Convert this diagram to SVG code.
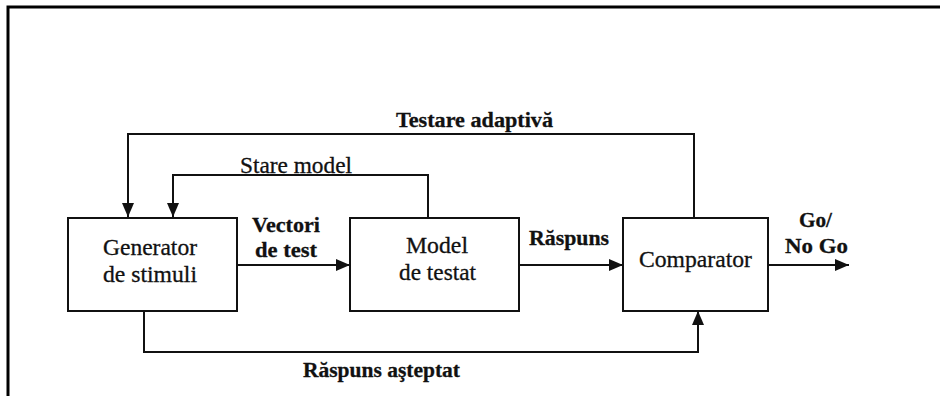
<svg xmlns="http://www.w3.org/2000/svg" width="940" height="396" viewBox="0 0 940 396">
<style>
.box{fill:#fff;stroke:#111;stroke-width:2}
.ln{fill:none;stroke:#111;stroke-width:2}
.t{font-family:"Liberation Serif","Times New Roman",serif;font-size:23px;fill:#111;stroke:#111;stroke-width:0.3}
.b{font-weight:bold;font-size:22px}
</style>
<defs>
<marker id="ah" viewBox="0 0 14 12" refX="14" refY="6" markerWidth="14" markerHeight="12" markerUnits="userSpaceOnUse" orient="auto">
<path d="M0,0 L14,6 L0,12 Z" fill="#111"/>
</marker>
</defs>
<rect width="940" height="396" fill="#fff"/>
<path d="M8,396 V7 H940" fill="none" stroke="#000" stroke-width="3"/>
<g id="connectors">
<path class="ln" d="M694,218 V134 H128 V217" marker-end="url(#ah)"/>
<path class="ln" d="M428,218 V175 H173 V217" marker-end="url(#ah)"/>
<path class="ln" d="M237,265 H350" marker-end="url(#ah)"/>
<path class="ln" d="M519,265 H623" marker-end="url(#ah)"/>
<path class="ln" d="M768,265 H849" marker-end="url(#ah)"/>
<path class="ln" d="M144,311 V352 H698 V311" marker-end="url(#ah)"/>
<text class="t b" x="396" y="127" textLength="157" lengthAdjust="spacingAndGlyphs">Testare adaptivă</text>
<text class="t" x="240" y="173" textLength="112" lengthAdjust="spacingAndGlyphs">Stare model</text>
<text class="t b" x="252" y="232" textLength="68" lengthAdjust="spacingAndGlyphs">Vectori</text>
<text class="t b" x="255" y="257" textLength="62" lengthAdjust="spacingAndGlyphs">de test</text>
<text class="t b" x="529" y="245" textLength="80" lengthAdjust="spacingAndGlyphs">Răspuns</text>
<text class="t b" x="799" y="227" textLength="33" lengthAdjust="spacingAndGlyphs">Go/</text>
<text class="t b" x="785" y="253" textLength="63" lengthAdjust="spacingAndGlyphs">No Go</text>
<text class="t b" x="303" y="377" textLength="157" lengthAdjust="spacingAndGlyphs">Răspuns aşteptat</text>
</g>
<g id="generator">
<rect class="box" x="68" y="218" width="169" height="93"/>
<text class="t" x="103" y="255" textLength="94" lengthAdjust="spacingAndGlyphs">Generator</text>
<text class="t" x="103" y="282" textLength="94" lengthAdjust="spacingAndGlyphs">de stimuli</text>
</g>
<g id="model">
<rect class="box" x="350" y="218" width="169" height="93"/>
<text class="t" x="406" y="253" textLength="62" lengthAdjust="spacingAndGlyphs">Model</text>
<text class="t" x="399" y="280" textLength="77" lengthAdjust="spacingAndGlyphs">de testat</text>
</g>
<g id="comparator">
<rect class="box" x="623" y="218" width="145" height="93"/>
<text class="t" x="639" y="267" textLength="113" lengthAdjust="spacingAndGlyphs">Comparator</text>
</g>
</svg>
